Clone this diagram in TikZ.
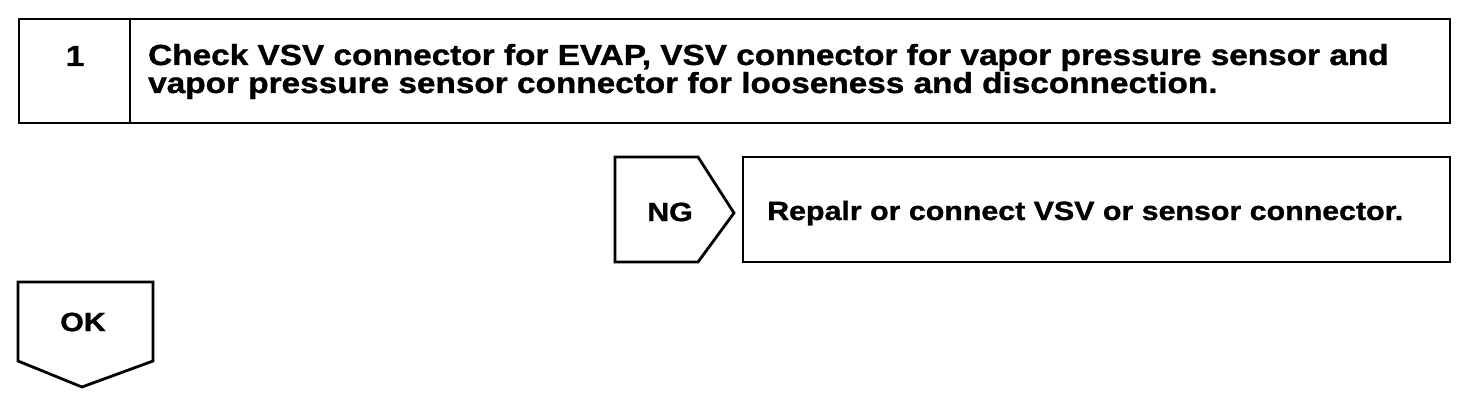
\documentclass[tikz,border=0pt]{standalone}
\usepackage{fontspec}
\setmainfont{Liberation Sans}[FakeStretch=1.15, BoldFeatures={FakeBold=1.2}]
\begin{document}
\begin{tikzpicture}[x=1pt,y=1pt,
  box/.style={draw, line width=2.8pt, inner sep=0, minimum width=#1},
  lbl/.style={font=\bfseries\fontsize{29}{27}\selectfont, inner sep=0},
  slbl/.style={font=\bfseries\fontsize{26.4}{27}\selectfont, inner sep=0},
  outline/.style={draw, line width=2.8pt, line join=miter}]
\useasboundingbox (0,0) rectangle (1472,402);
% header box
\node[box=111pt, minimum height=104pt] (hnum) at (74.5,331) {};
\node[box=1320pt, minimum height=104pt] (htext) at (790,331) {};
\node[lbl, anchor=base] (n1) at (75,336) {1};
\node[lbl, anchor=base west] (l1) at (148,337) {Check VSV connector for EVAP, VSV connector for vapor pressure sensor and};
\node[lbl, anchor=base west] (l2) at (148,309) {vapor pressure sensor connector for looseness and disconnection.};
% NG branch
\draw[outline] (615,245) -- (698,245) -- (734,189) -- (698,140) -- (615,140) -- cycle;
\node[slbl] (ng) at (670,190) {NG};
\node[box=707pt, minimum height=105pt] (repair) at (1096.5,192.5) {};
\node[slbl, anchor=base west] (rtext) at (767,182) {Repalr or connect VSV or sensor connector.};
% OK branch
\draw[outline] (18,120) -- (153,120) -- (153,41) -- (82,15) -- (18,41) -- cycle;
\node[slbl] (ok) at (83,80) {OK};
\end{tikzpicture}
\end{document}
